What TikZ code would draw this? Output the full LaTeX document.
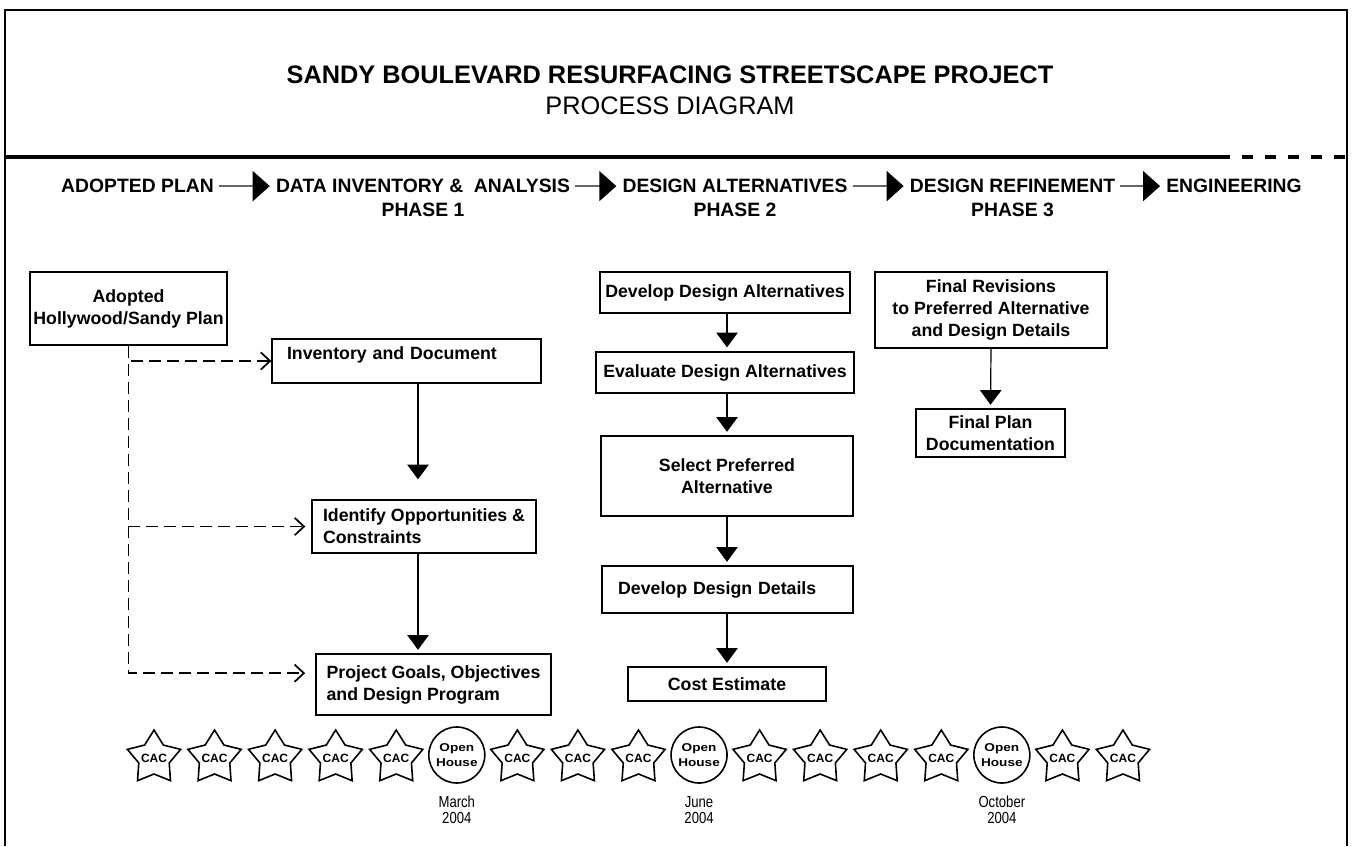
\documentclass[tikz,border=0pt]{standalone}
\usepackage{fontspec}
\setmainfont{Liberation Sans}
\newfontfamily\narrowfamily{Liberation Sans}[FakeStretch=0.82]
\newfontfamily\widefamily{Liberation Sans}[FakeStretch=1.2]
\usepackage{tikz}
\usetikzlibrary{shapes.geometric,positioning,calc}
\usetikzlibrary{arrows.meta}

\newcommand{\titlefnt}{\fontsize{19}{23}\selectfont\bfseries}
\newcommand{\subfnt}{\fontsize{19}{23}\selectfont}
\newcommand{\hdfnt}{\fontsize{14.5}{18}\selectfont\bfseries}
\newcommand{\boxfnt}{\fontsize{13.3}{16.5}\selectfont\bfseries}
\newcommand{\cacfnt}{\fontsize{9}{11}\selectfont\bfseries}
\newcommand{\ohfnt}{\widefamily\fontsize{8.5}{11}\selectfont\bfseries}
\newcommand{\datefnt}{\narrowfamily\fontsize{12}{12}\selectfont}

\tikzset{
  box/.style={draw, line width=1.3pt, font=\boxfnt, align=center, inner sep=2pt},
  flow/.style={line width=0.9pt, -{Triangle[length=11pt,width=16pt]}, shorten >=2.5pt},
  dashflow/.style={line width=1.3pt, dash pattern=on 9pt off 4.5pt, -{Straight Barb[length=7pt,width=13pt]}},
  hdarrow/.style={draw=black!60, line width=1.3pt, -{Triangle[length=12.75pt,width=22.5pt,color=black]}, shorten <=3.75pt, shorten >=4.5pt},
  hdtext/.style={font=\hdfnt, align=center, inner sep=0pt, anchor=north},
  cacstar/.style={star, star points=5, star point ratio=1.75, draw, line width=1.2pt, minimum size=42pt, inner sep=0pt, font=\cacfnt},
  openhouse/.style={circle, draw, line width=1.2pt, minimum size=42pt, inner sep=0pt, align=center, font=\ohfnt},
  datetext/.style={font=\datefnt, align=center, inner sep=0pt}
}

\begin{document}
\begin{tikzpicture}[x=0.75pt,y=-0.75pt]
	\useasboundingbox (0,0) rectangle (1352,846);
	% frame and header rule
	\draw[line width=1.8pt] (5,846) -- (5,10) -- (1347,10) -- (1347,846);
	\draw[line width=2.6pt] (5,157) -- (1230,157);
	\draw[line width=2.6pt, dash pattern=on 8.25pt off 9pt] (1242,157) -- (1347,157);

	\node[font=\titlefnt, inner sep=0pt] (title) at (670,75) {SANDY BOULEVARD RESURFACING STREETSCAPE PROJECT};
	\node[font=\subfnt, inner sep=0pt, below=9pt of title] (subtitle) {PROCESS DIAGRAM};

	% phases
	\node[hdtext] (hadopt) at (137.5,179) {ADOPTED PLAN};
	\node[hdtext] (hdata) at (423,179) {DATA INVENTORY \&~ ANALYSIS\\PHASE 1};
	\node[hdtext] (halt) at (735,179) {DESIGN ALTERNATIVES\\PHASE 2};
	\node[hdtext] (href) at (1012.5,179) {DESIGN REFINEMENT\\PHASE 3};
	\node[hdtext] (heng) at (1234,179) {ENGINEERING};
	\draw[hdarrow] (hadopt.east) -- (hadopt.east -| hdata.west);
	\draw[hdarrow] (hdata.east |- hadopt.east) -- (halt.west |- hadopt.east);
	\draw[hdarrow] (halt.east |- hadopt.east) -- (href.west |- hadopt.east);
	\draw[hdarrow] (href.east |- hadopt.east) -- (heng.west |- hadopt.east);

	% phase 1
	\node[box, minimum width=147.75pt, minimum height=54.75pt] (adopt) at (128.5,308.5) {Adopted\\Hollywood/Sandy Plan};
	\node[box, align=left, inner xsep=11.25pt, inner ysep=0pt, text width=179.25pt, text height=15.3pt, text depth=17.7pt, line width=1pt] (inv) at (406.5,361) {Inventory and Document};
	\node[box, align=left, minimum width=168pt, minimum height=39.75pt, line width=1pt] (ident) at (424,526.5) {Identify Opportunities \&\\Constraints};
	\node[box, align=left, minimum width=176.25pt, minimum height=45.75pt] (goals) at (433.5,684.5) {Project Goals, Objectives\\and Design Program};
	\coordinate (colA) at (418,0);
	\draw[flow, shorten >=15pt] (inv.south -| colA) -- (ident.north -| colA);
	\draw[flow] (ident.south -| colA) -- (goals.north -| colA);
	\draw[dashflow] (adopt.south) |- (inv.west);
	\draw[dashflow, shorten >=4.5pt] (adopt.south) |- (ident.west);
	\draw[dashflow, shorten >=7.5pt] (adopt.south) |- ([yshift=8.5pt]goals.west);

	% phase 2
	\node[box, minimum width=187.5pt, minimum height=30.75pt] (dda) at (725,292.5) {Develop Design Alternatives};
	\node[box, minimum width=193.5pt, minimum height=30.75pt, line width=2pt] (eda) at (725,372.5) {Evaluate Design Alternatives};
	\node[box, minimum width=189pt, minimum height=60pt] (spa) at (727,476) {Select Preferred\\Alternative};
	\node[box, align=left, inner xsep=12pt, text width=164pt, minimum height=35.25pt] (ddd) at (727.5,589.5) {Develop Design Details};
	\node[box, minimum width=148.5pt, minimum height=25.5pt] (cost) at (727,684) {Cost Estimate};
	\coordinate (colB) at (727,0);
	\draw[flow] (dda.south -| colB) -- (eda.north -| colB);
	\draw[flow] (eda.south -| colB) -- (spa.north -| colB);
	\draw[flow] (spa.south -| colB) -- (ddd.north -| colB);
	\draw[flow] (ddd.south -| colB) -- (cost.north -| colB);

	% phase 3
	\node[box, minimum width=174pt, minimum height=57pt] (frev) at (991,310) {Final Revisions\\to Preferred Alternative\\and Design Details};
	\node[box, minimum width=111.75pt, minimum height=36pt] (fplan) at (990.5,433) {Final Plan\\Documentation};
	\draw[flow] (frev.south) -- (fplan.north);

	% meetings
	\foreach \i in {0,1,2,3,4,6,7,8,10,11,12,13,15,16}
		\node[cacstar] (cac\i) at ({154+60.56*\i},758) {\makebox[0pt]{CAC}};
	\foreach \i/\mon in {5/March,9/June,14/October} {
		\node[openhouse] (oh\i) at ({154+60.56*\i},755) {Open\\House};
		\node[datetext, below=9pt of oh\i] (date\i) {\mon\\2004};
	}
\end{tikzpicture}
\end{document}
